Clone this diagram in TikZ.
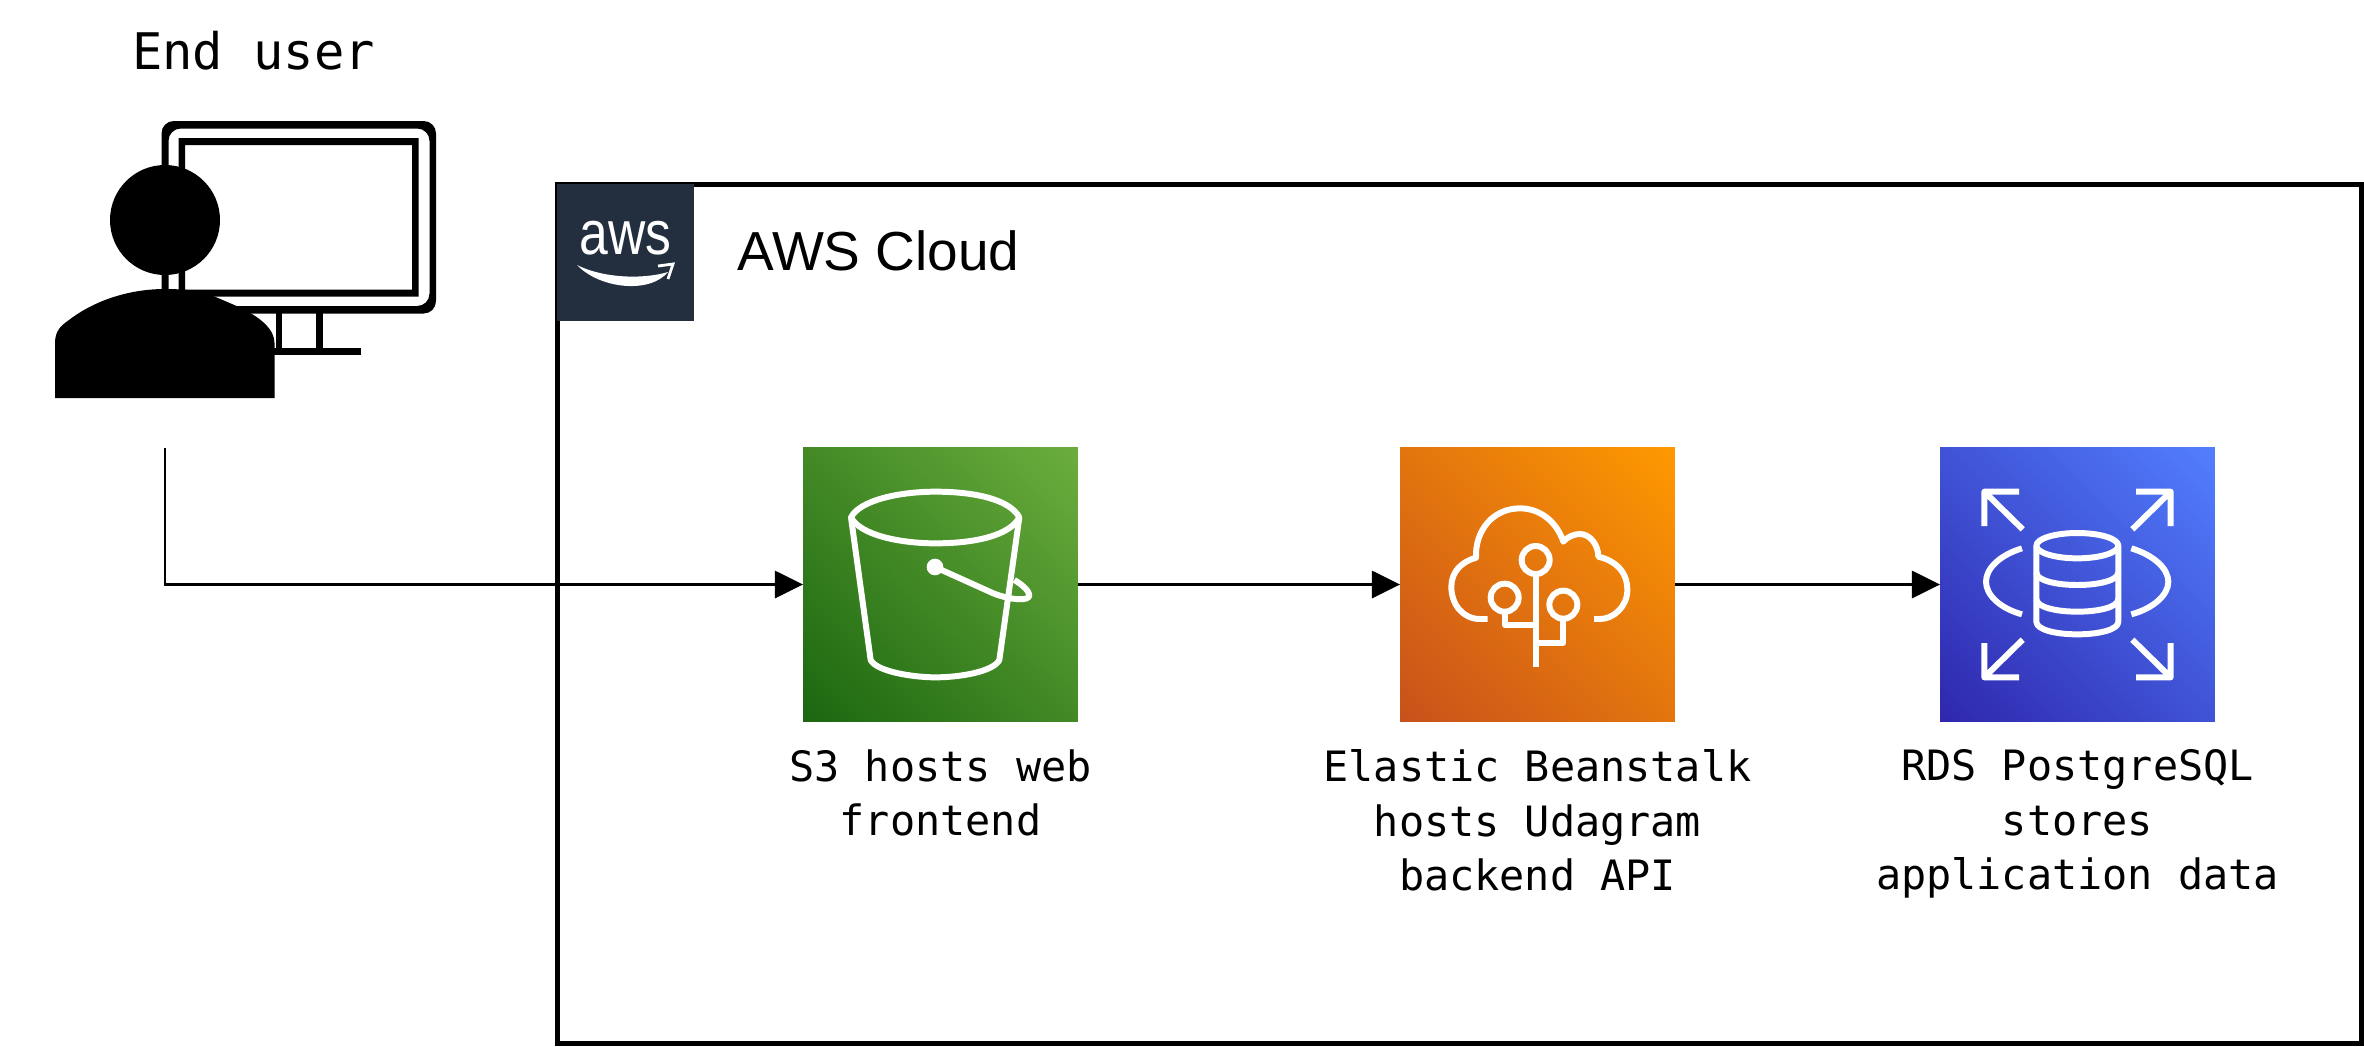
\documentclass[tikz,border=0pt]{standalone}
\usepackage{fontspec}
\setmonofont{DejaVu Sans Mono}
\setsansfont{Liberation Sans}
\usetikzlibrary{arrows.meta,shadings}
\definecolor{awsdark}{HTML}{232F3E}
\definecolor{greenlow}{HTML}{1B660F}
\definecolor{greenmid}{HTML}{438A26}
\definecolor{greenhigh}{HTML}{6CAE3E}
\definecolor{orangelow}{HTML}{C8511B}
\definecolor{orangemid}{HTML}{E3750E}
\definecolor{orangehigh}{HTML}{FF9900}
\definecolor{bluelow}{HTML}{2E27AD}
\definecolor{bluemid}{HTML}{4053D6}
\definecolor{bluehigh}{HTML}{527FFF}
\tikzset{
  icon/.style={rectangle,minimum size=5.5cm,inner sep=0pt,outer sep=0pt},
  glyph/.style={draw=white,line width=3.4pt,line join=round},
  flow/.style={->,line width=1.3pt},
  caption/.style={anchor=north,align=center,inner sep=0pt,font=\ttfamily\fontsize{23.8}{30.9}\selectfont},
}
\begin{document}
\begin{tikzpicture}[x=.02cm,y=-.02cm,>={Triangle[length=16pt,width=15.5pt]}]
  \useasboundingbox (0,0) rectangle (2364,1046);
  % cloud frame
  \node[draw,line width=3pt,rectangle,minimum width=36.08cm,minimum height=17.18cm,inner sep=0pt,outer sep=0pt] (cloud) at (1459.5,614) {};
  \node[fill=awsdark,rectangle,minimum size=2.75cm,inner sep=0pt] (logo) at (625.5,252.5) {};
  \node[text=white,font=\sffamily\fontsize{29.4}{30}\selectfont,yscale=1.2,inner sep=0pt] (awsword) at (625.5,238) {aws};
  \fill[white] (577,265) .. controls (600,289) and (650,294) .. (668,272) .. controls (645,279) and (605,279) .. cycle;
  \draw[white,line width=1.6pt] (658,266) -- (673,264) -- (668,279);
  \node[font=\sffamily\fontsize{31.3}{36}\selectfont,anchor=base west,inner sep=0pt] (cloudtitle) at (737,270) {AWS Cloud};
  % end user
  \node[font=\ttfamily\fontsize{28.7}{32}\selectfont,anchor=base,inner sep=0pt] (usertitle) at (253.5,69) {End user};
  \fill[even odd rule,rounded corners=7pt] (161.5,121) rectangle (436,313.5) (168.5,128.5) rectangle (429.5,306);
  \fill[even odd rule] (178.5,138) rectangle (418.5,296.5) (185,145) rectangle (412,289.5);
  \fill (275.5,313) rectangle (281.5,348);
  \fill (316,313) rectangle (322.5,348);
  \fill (270,348) rectangle (360.5,354.5);
  \fill (165,220) circle (55);
  \fill (55,398) -- (55,343) .. controls (55,330) and (62,325) .. (69,320) .. controls (95,300) and (130,289) .. (165,289) .. controls (185,289) and (200,291) .. (211,295) -- (239,307) .. controls (262,318) and (274.5,330) .. (274.5,343) -- (274.5,398) -- cycle;
  \coordinate (user) at (165,448);
  % services
  \node[icon,lower left=greenlow,upper right=greenhigh,upper left=greenmid,lower right=greenmid] (s3) at (940.5,584.5) {};
  \node[icon,lower left=orangelow,upper right=orangehigh,upper left=orangemid,lower right=orangemid] (beanstalk) at (1537.5,584.5) {};
  \node[icon,lower left=bluelow,upper right=bluehigh,upper left=bluemid,lower right=bluemid] (rds) at (2077.5,584.5) {};
  % bucket
  \begin{scope}[shift={(780,430)},scale=1/3]
    \draw[glyph] (213,262) .. controls (240,210) and (360,185) .. (466,185) .. controls (590,185) and (690,210) .. (718,262) .. controls (690,315) and (590,340) .. (466,340) .. controls (360,340) and (240,315) .. cycle;
    \draw[glyph] (213,262) -- (272,690) .. controls (290,725) and (400,742) .. (466,742) .. controls (540,742) and (640,725) .. (658,690) -- (718,262);
    \fill[white] (465,411) circle (25);
    \draw[glyph] (465,411) -- (640,490) .. controls (690,510) and (750,515) .. (748,495) .. controls (745,478) and (720,460) .. (703,450);
  \end{scope}
  % cloud with branches
  \begin{scope}[shift={(1380,430)},scale=1/3]
    \draw[glyph,line cap=butt] (323,567) -- (300,567) .. controls (250,567) and (214,525) .. (214,470) .. controls (214,425) and (245,395) .. (288,383) .. controls (285,300) and (340,235) .. (420,235) .. controls (480,235) and (530,275) .. (550,335) .. controls (565,318) and (585,312) .. (600,312) .. controls (630,312) and (655,345) .. (655,380) .. controls (700,390) and (742,420) .. (742,480) .. controls (742,530) and (700,567) .. (660,567) -- (642,567);
    \draw[glyph] (467,390) circle (42);
    \draw[glyph] (374,503) circle (42);
    \draw[glyph] (550,524) circle (42);
    \draw[glyph] (467,432) -- (467,710);
    \draw[glyph] (374,545) -- (374,586) -- (467,586);
    \draw[glyph] (550,566) -- (550,638) -- (467,638);
  \end{scope}
  % database
  \begin{scope}[shift={(1920,430)},scale=1/3]
    \foreach \cx/\cy/\dx/\dy in {193/185/1/1,752/185/-1/1,193/742/1/-1,752/742/-1/-1}
      \draw[glyph] (\cx,\cy+\dy*103) -- (\cx,\cy) -- (\cx+\dx*104,\cy) (\cx,\cy) -- (\cx+\dx*115,\cy+\dy*113);
    \draw[glyph] (306,355) .. controls (240,375) and (198,415) .. (198,455) .. controls (198,495) and (240,535) .. (306,553);
    \draw[glyph] (634,355) .. controls (700,375) and (745,415) .. (745,455) .. controls (745,495) and (700,535) .. (634,553);
    \draw[glyph] (472,347) ellipse (123 and 38);
    \draw[glyph] (349,347) -- (349,575) .. controls (349,600) and (410,613) .. (472,613) .. controls (534,613) and (595,600) .. (595,575) -- (595,347);
    \foreach \ly in {427,507}
      \draw[glyph] (349,\ly) .. controls (349,\ly+25) and (410,\ly+38) .. (472,\ly+38) .. controls (534,\ly+38) and (595,\ly+25) .. (595,\ly);
  \end{scope}
  % captions
  \node[caption] (s3text) at (940.5,749.5) {S3 hosts web\\frontend};
  \node[caption] (beanstalktext) at (1537.5,749.5) {Elastic Beanstalk\\hosts Udagram\\backend API};
  \node[caption] (rdstext) at (2077.5,749.5) {RDS PostgreSQL\\stores\\application data};
  % connectors
  \draw[flow] (user) |- (s3);
  \draw[flow] (s3) -- (beanstalk);
  \draw[flow] (beanstalk) -- (rds);
\end{tikzpicture}
\end{document}
